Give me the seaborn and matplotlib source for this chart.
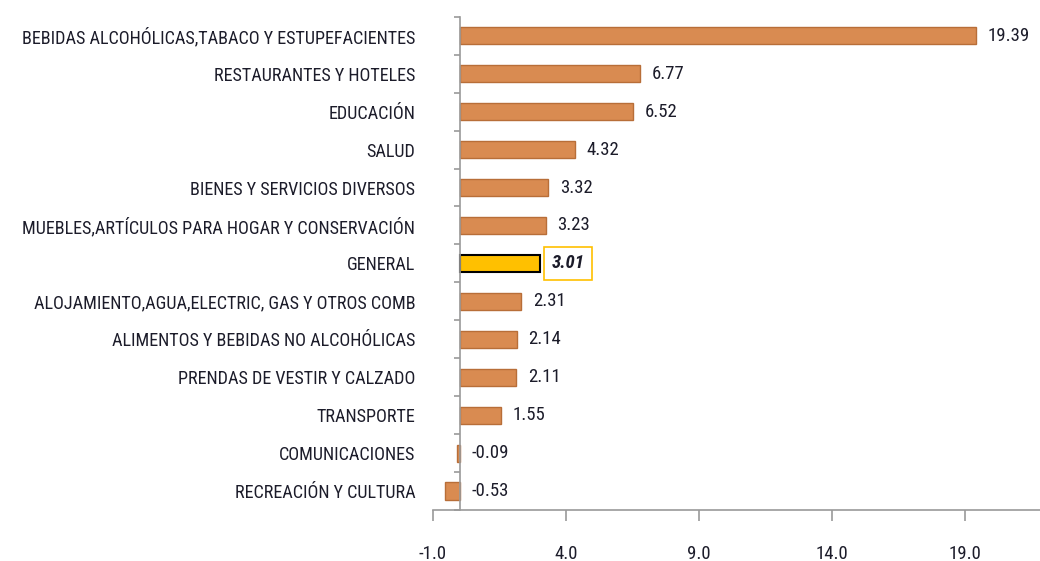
import matplotlib
matplotlib.use("Agg")
import matplotlib.pyplot as plt
import seaborn as sns
import pandas as pd
from matplotlib.ticker import FixedLocator, FormatStrFormatter

categories = [
    "BEBIDAS ALCOHÓLICAS,TABACO Y ESTUPEFACIENTES",
    "RESTAURANTES Y HOTELES",
    "EDUCACIÓN",
    "SALUD",
    "BIENES Y SERVICIOS DIVERSOS",
    "MUEBLES,ARTÍCULOS PARA HOGAR Y CONSERVACIÓN",
    "GENERAL",
    "ALOJAMIENTO,AGUA,ELECTRIC, GAS Y OTROS COMB",
    "ALIMENTOS Y BEBIDAS NO ALCOHÓLICAS",
    "PRENDAS DE VESTIR Y CALZADO",
    "TRANSPORTE",
    "COMUNICACIONES",
    "RECREACIÓN Y CULTURA",
]
values = [19.39, 6.77, 6.52, 4.32, 3.32, 3.23, 3.01, 2.31, 2.14, 2.11, 1.55, -0.09, -0.53]
x_ticks = [-1.0, 4.0, 9.0, 14.0, 19.0]
highlight = "GENERAL"

sns.set_theme(style="white")
plt.rcParams['font.family'] = ['Roboto Condensed', 'DejaVu Sans']
plt.rcParams['font.stretch'] = 'condensed'

BAR = "#D98B51"
BAR_EDGE = "#B86E38"
HL = "#FFC000"
TXT = "#1C1C2A"
AXC = "#9A9A9A"

df = pd.DataFrame({"cat": categories, "val": values})
palette = [HL if c == highlight else BAR for c in categories]

fig = plt.figure(figsize=(10.4, 5.61), dpi=100)
ax = fig.add_axes([0.4163, 0.091, 0.5837, 0.879])
sns.barplot(data=df, x="val", y="cat", hue="cat", palette=palette, saturation=1,
            legend=False, width=0.45, orient="h", ax=ax, linewidth=1.2)

for p, c in zip(ax.patches, categories):
    if c == highlight:
        p.set_edgecolor("black")
        p.set_linewidth(1.5)
    else:
        p.set_edgecolor(BAR_EDGE)
        p.set_linewidth(1.0)

ax.set_xlim(-1.0, 21.8)
ax.set_ylim(len(categories) - 0.5, -0.5)
ax.set_xlabel("")
ax.set_ylabel("")

for s in ["top", "right"]:
    ax.spines[s].set_visible(False)
ax.spines["left"].set_position(("data", 0))
ax.spines["left"].set_color(AXC)
ax.spines["bottom"].set_color(AXC)
ax.spines["left"].set_linewidth(1.2)
ax.spines["bottom"].set_linewidth(1.2)

ax.xaxis.set_major_locator(FixedLocator(x_ticks))
ax.xaxis.set_major_formatter(FormatStrFormatter("%.1f"))
ax.tick_params(axis="x", direction="out", length=8, width=1.2, color=AXC,
               pad=17, labelsize=13.5, labelcolor=TXT, bottom=True)

ax.set_yticks(range(len(categories)))
ax.set_yticklabels(categories)
ax.set_yticks([i - 0.5 for i in range(len(categories) + 1)], minor=True)
ax.tick_params(axis="y", which="major", length=0, pad=32, labelsize=13.1, labelcolor=TXT)
ax.tick_params(axis="y", which="minor", direction="out", length=4, width=1.2, color=AXC, left=True)

for i, (c, v) in enumerate(zip(categories, values)):
    xpos = max(v, 0) + 0.45
    if c == highlight:
        ax.text(xpos, i, f"{v:.2f}", va="center", ha="left", fontsize=13.5,
                fontweight="bold", fontstyle="italic", color=TXT,
                bbox=dict(boxstyle="square,pad=0.4", facecolor="white", edgecolor=HL, linewidth=1.2))
    else:
        ax.text(xpos, i, f"{v:.2f}", va="center", ha="left", fontsize=13.5, color=TXT)

fig.savefig("out.png", dpi=100)
